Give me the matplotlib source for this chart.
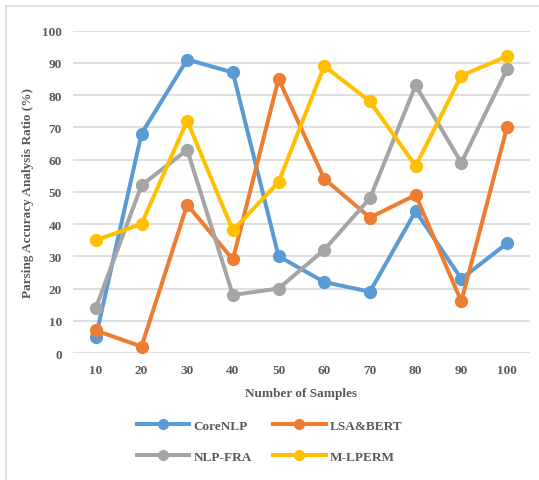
import numpy as np
import matplotlib.pyplot as plt
from matplotlib.lines import Line2D

plt.rcParams['font.family'] = ['Liberation Serif', 'DejaVu Serif']

samples = [10, 20, 30, 40, 50, 60, 70, 80, 90, 100]
core_nlp = [5, 68, 91, 87, 30, 22, 19, 44, 23, 34]
lsa_bert = [7, 2, 46, 29, 85, 54, 42, 49, 16, 70]
nlp_fra = [14, 52, 63, 18, 20, 32, 48, 83, 59, 88]
m_lperm = [35, 40, 72, 38, 53, 89, 78, 58, 86, 92]

names = ['CoreNLP', 'LSA&BERT', 'NLP-FRA', 'M-LPERM']
colors = ['#5B9BD5', '#ED7D31', '#A5A5A5', '#FFC000']
text_col = '#595959'

fig = plt.figure(figsize=(5.39, 4.81), dpi=100)
ax = fig.add_axes([0.1354, 0.264, 0.8476, 0.6705])

for vals, name, c in zip([core_nlp, lsa_bert, nlp_fra, m_lperm], names, colors):
    ax.plot(samples, vals, color=c, lw=2.9, marker='o', ms=8.5, label=name,
            solid_joinstyle='round', clip_on=False)

ax.set_xlim(5, 105)
ax.set_ylim(0, 100)
ax.set_yticks(np.arange(0, 101, 10))
ax.set_xticks(samples)
ax.grid(axis='y', color='#D9D9D9', lw=1.2)
ax.set_axisbelow(True)
for s in ax.spines.values():
    s.set_visible(False)
ax.tick_params(length=0, labelsize=9.5, labelcolor=text_col, pad=8)
for lab in ax.get_xticklabels() + ax.get_yticklabels():
    lab.set_fontweight('bold')
ax.set_xlabel('Number of Samples', fontsize=9.5, fontweight='bold', color=text_col, labelpad=8)
ax.set_ylabel('Parsing Accuracy Analysis Ratio (%)', fontsize=9.5, fontweight='bold',
              color=text_col, labelpad=6)

# legend fills column-wise, so order entries to read row by row
order = [0, 2, 1, 3]
handles = [Line2D([], [], color=colors[i], lw=2.9, marker='o', ms=7) for i in order]
labels = [names[i] for i in order]
leg = fig.legend(handles, labels, loc='center', bbox_to_anchor=(0.5, 0.081), ncol=2,
                 frameon=False, handlelength=4.0, handletextpad=0.3, columnspacing=1.6,
                 labelspacing=1.4,
                 prop={'family': 'Liberation Serif', 'weight': 'bold', 'size': 9.5})
for t in leg.get_texts():
    t.set_color(text_col)

# outer chart frame (top and left edges)
fig.add_artist(Line2D([6 / 539, 1], [1 - 7 / 481, 1 - 7 / 481], transform=fig.transFigure,
                      color='#D9D9D9', lw=1.2))
fig.add_artist(Line2D([6 / 539, 6 / 539], [0, 1 - 7 / 481], transform=fig.transFigure,
                      color='#D9D9D9', lw=1.2))

fig.savefig('out.png', dpi=100)
